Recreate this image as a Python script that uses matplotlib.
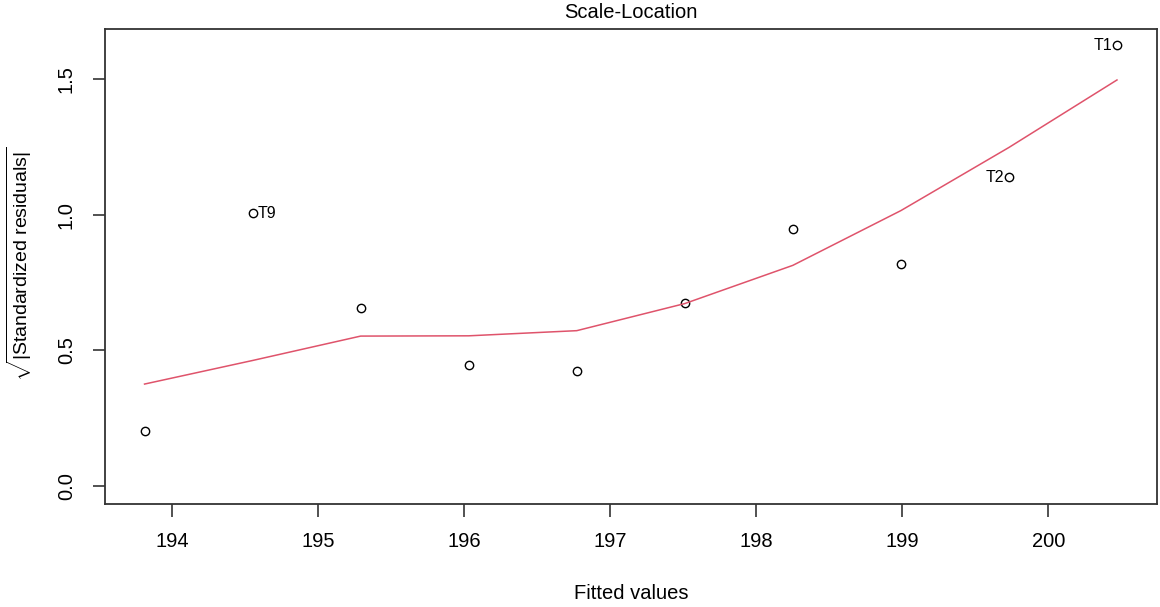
import numpy as np
import matplotlib
matplotlib.use("Agg")
import matplotlib.pyplot as plt

plt.rcParams["font.family"] = ["Liberation Sans", "DejaVu Sans"]
plt.rcParams["mathtext.fontset"] = "custom"
plt.rcParams["mathtext.rm"] = "Liberation Sans"
plt.rcParams["mathtext.it"] = "Liberation Sans:italic"

# fitted values and sqrt(|standardized residuals|)
fitted = [193.81, 194.55, 195.29, 196.03, 196.77, 197.51, 198.25, 198.99, 199.73, 200.47]
sqrt_resid = [0.202, 1.006, 0.656, 0.444, 0.425, 0.674, 0.948, 0.818, 1.138, 1.625]
smooth = [0.375, 0.462, 0.552, 0.553, 0.572, 0.672, 0.813, 1.015, 1.248, 1.497]
point_ids = ["", "T9", "", "", "", "", "", "", "T2", "T1"]

fig = plt.figure(figsize=(11.6, 6.07), dpi=100)
ax = fig.add_axes([0.0905, 0.1697, 0.9069, 0.7825])

ax.plot(fitted, sqrt_resid, "o", mfc="none", mec="black", ms=6, mew=1)
ax.plot(fitted, smooth, color="#DF536B", lw=1.1)

for xv, yv, lab in zip(fitted, sqrt_resid, point_ids):
    if not lab:
        continue
    if xv < np.mean(fitted):
        ax.annotate(lab, (xv, yv), xytext=(3.5, 0), textcoords="offset points",
                    ha="left", va="center", fontsize=11.5)
    else:
        ax.annotate(lab, (xv, yv), xytext=(-3.5, 0), textcoords="offset points",
                    ha="right", va="center", fontsize=11.5)

ax.set_xlim(193.539, 200.744)
ax.set_ylim(-0.0675, 1.685)
ax.set_xticks([194, 195, 196, 197, 198, 199, 200])
ax.set_yticks([0.0, 0.5, 1.0, 1.5])
ax.set_yticklabels(["0.0", "0.5", "1.0", "1.5"], rotation=90, va="center")
ax.tick_params(axis="both", labelsize=14.5, length=9, width=1.2, color="#333333")
ax.tick_params(axis="x", pad=11)
ax.tick_params(axis="y", pad=12)
for s in ax.spines.values():
    s.set_color("#333333")
    s.set_linewidth(1.3)

fig.text(0.5 * (0.0905 + 0.9974), 0.980, "Scale-Location", ha="center", va="center", fontsize=14.5)
fig.text(0.5 * (0.0905 + 0.9974), 0.023, "Fitted values", ha="center", va="center", fontsize=14.5)
fig.text(0.017, 0.565, r"$\sqrt{|\mathrm{Standardized\ residuals}|}$", rotation=90,
         ha="center", va="center", fontsize=14)

fig.savefig("out.png", dpi=100)
